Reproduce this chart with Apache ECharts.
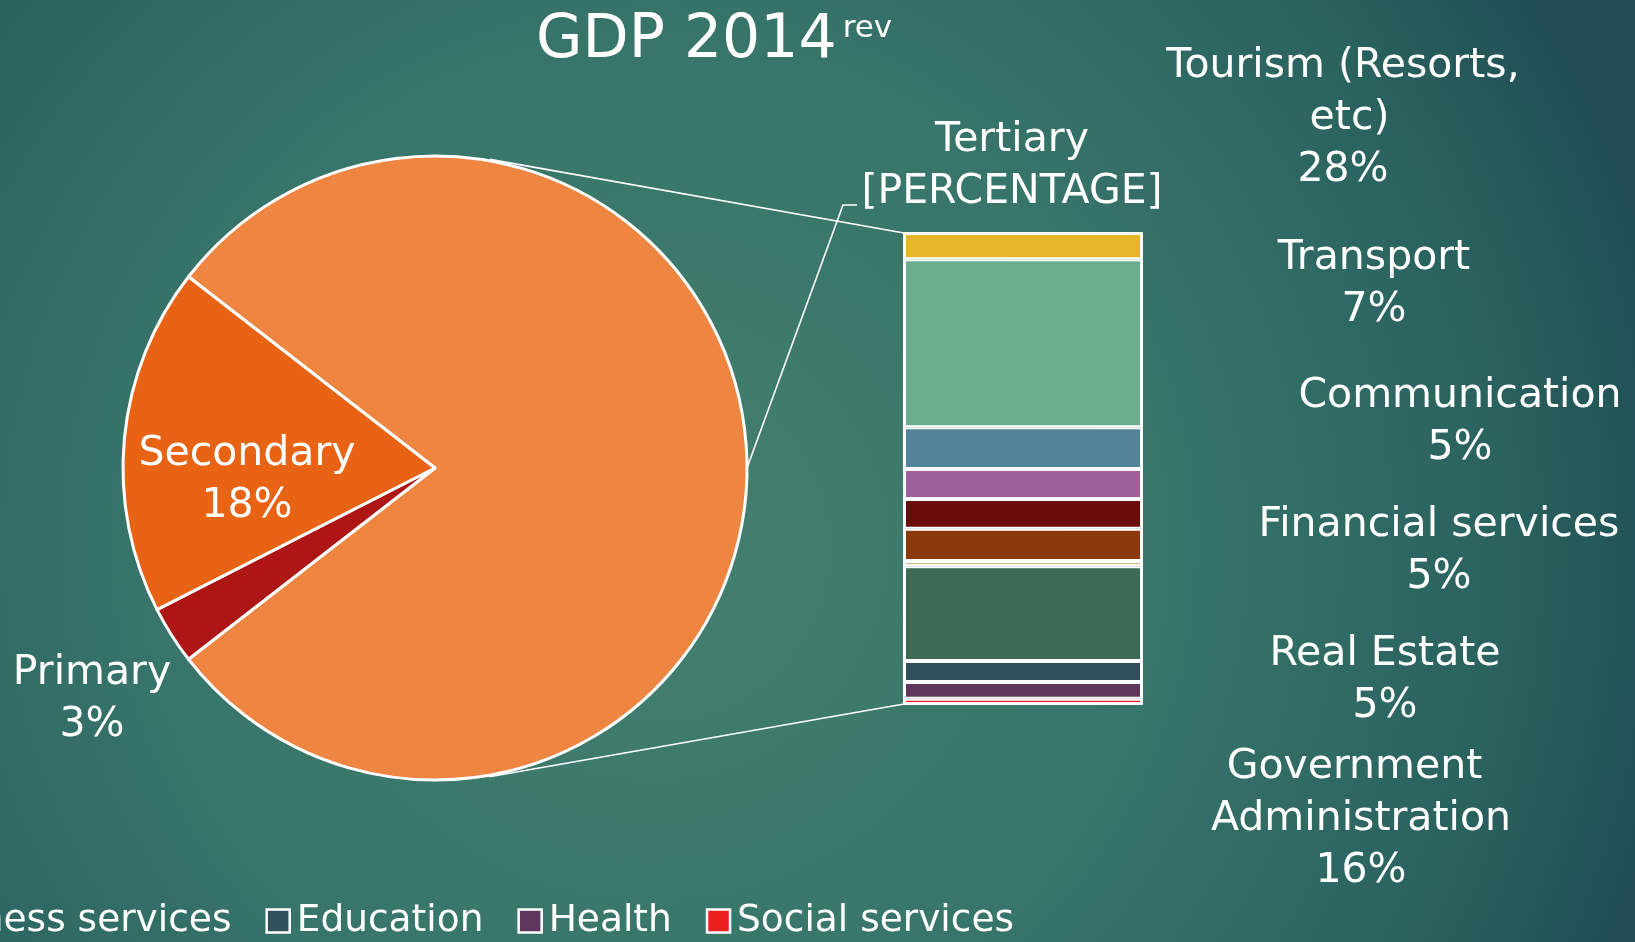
<!DOCTYPE html>
<html>
<head>
<meta charset="utf-8">
<title>GDP 2014 rev</title>
<script src="https://cdn.jsdelivr.net/npm/echarts@6/dist/echarts.min.js"></script>
<style>
  html, body { margin: 0; padding: 0; }
  #main { width: 1635px; height: 942px; }
</style>
</head>
<body>
<div id="main"></div>
<script>
// main sectors (pie)
const sectorNames = ['Primary', 'Secondary']
const sectorValues = [3, 18]
const tertiaryName = 'Tertiary'

// tertiary breakdown (bar), top to bottom
const tertiaryNames = [
  'Trade',
  'Tourism (Resorts, etc)',
  'Transport',
  'Communication',
  'Financial services',
  'Real Estate',
  'Business services',
  'Government Administration',
  'Education',
  'Health',
  'Social services',
]
const tertiaryValues = [4.4, 28.2, 7.0, 5.0, 5.0, 5.4, 0.9, 15.9, 3.5, 2.8, 0.9]

// legend order as in the slide
const legendOrder = [
  'Primary', 'Secondary', 'Trade', 'Tourism (Resorts, etc)', 'Transport',
  'Communication', 'Financial services', 'Real Estate',
  'Government Administration', 'Business services', 'Education', 'Health',
  'Social services',
]

// styles
const FONT = 'DejaVu Sans'
const PIE_COLORS = { Tertiary: '#EE8541', Primary: '#AE1515', Secondary: '#E96314' }
const BAR_COLORS = [
  '#E6B729', '#6AAD8F', '#52839A', '#9E5F9A', '#6A0D0D', '#8B3A0E',
  '#CDBE8E', '#3C6B55', '#324F5C', '#5E375C', '#E8211F',
]
const PIE_CENTER = [435, 468]
const PIE_RADIUS = 312
const BAR_W = 238
const BAR_BORDER = 2
// where the moved data labels sit
const barLabelSpots = {
  'Tourism (Resorts, etc)': [1343, 118],
  'Transport': [1374, 284],
  'Communication': [1460, 422],
  'Financial services': [1439, 551],
  'Real Estate': [1385, 680],
  'Government Administration': [1361, 819],
}
const pieLabelSpots = { Tertiary: [1012, 166], Primary: [92, 699], Secondary: [247, 480] }
const tertiaryElbow = [[843, 205], [857, 205]]

const tertiaryTotal = tertiaryValues.reduce((a, b) => a + b, 0)
const grandTotal = tertiaryTotal + sectorValues.reduce((a, b) => a + b, 0)

const chart = echarts.init(document.getElementById('main'), null, { renderer: 'canvas' })

const pieData = [
  {
    name: tertiaryName,
    value: tertiaryTotal,
    itemStyle: { color: PIE_COLORS.Tertiary },
    label: { position: 'outside', formatter: '{b}\n[PERCENTAGE]' },
    labelLine: { show: true },
  },
].concat(sectorNames.map((name, i) => ({
  name,
  value: sectorValues[i],
  itemStyle: { color: PIE_COLORS[name] },
  label: { position: name === 'Secondary' ? 'inside' : 'outside' },
  labelLine: { show: false },
})))

const barSeries = tertiaryNames.map((name, i) => {
  const spot = barLabelSpots[name]
  const s = {
    type: 'bar',
    name,
    stack: 'tertiary',
    barWidth: BAR_W,
    data: [tertiaryValues[i]],
    silent: true,
    itemStyle: { color: BAR_COLORS[i], borderColor: '#fff', borderWidth: BAR_BORDER },
    label: { show: false },
  }
  if (spot) {
    s.label = {
      show: true,
      position: 'inside',
      color: '#fff',
      fontFamily: FONT,
      fontSize: 41,
      lineHeight: 52,
      width: 370,
      overflow: 'break',
      align: 'center',
      formatter: (p) => p.seriesName + '\n' + Math.round((p.value / grandTotal) * 100) + '%',
    }
    s.labelLayout = { x: spot[0], y: spot[1], align: 'center', verticalAlign: 'middle' }
  }
  return s
})

const option = {
  animation: false,
  backgroundColor: {
    type: 'radial',
    x: 0.4,
    y: 0.58,
    r: 1.1,
    colorStops: [
      { offset: 0, color: '#43806f' },
      { offset: 0.5, color: '#37746a' },
      { offset: 0.82, color: '#2a625e' },
      { offset: 1, color: '#204e54' },
    ],
  },
  textStyle: { fontFamily: FONT, color: '#fff' },
  title: {
    text: '{a|GDP 2014}{b|rev}',
    left: 536,
    top: 3,
    padding: 0,
    textStyle: {
      fontWeight: 'normal',
      rich: {
        a: { fontFamily: FONT, fontSize: 60, fontWeight: 'normal', lineHeight: 76, color: '#fff' },
        b: {
          fontFamily: FONT, fontSize: 31, fontWeight: 'normal', lineHeight: 44, color: '#fff',
          verticalAlign: 'top', padding: [10, 0, 0, 6],
        },
      },
    },
  },
  legend: {
    data: legendOrder,
    right: 621,
    top: 902,
    width: 5000,
    padding: 0,
    icon: 'rect',
    itemWidth: 23,
    itemHeight: 23,
    itemGap: 34,
    selectedMode: false,
    itemStyle: { borderColor: '#fff', borderWidth: 2.5 },
    textStyle: { color: '#fff', fontFamily: FONT, fontSize: 37.5, padding: [0, 0, 0, 2] },
  },
  grid: { left: 904, top: 233, width: BAR_W, height: 471 },
  xAxis: { type: 'category', data: [tertiaryName], show: false },
  yAxis: { type: 'value', min: 0, max: tertiaryTotal, inverse: true, show: false },
  series: [
    {
      type: 'pie',
      center: PIE_CENTER,
      radius: PIE_RADIUS,
      startAngle: (tertiaryTotal / grandTotal) * 180,
      clockwise: true,
      avoidLabelOverlap: false,
      silent: true,
      itemStyle: { borderColor: '#fff', borderWidth: 3 },
      label: {
        color: '#fff',
        fontFamily: FONT,
        fontSize: 41,
        lineHeight: 52,
        align: 'center',
        formatter: (p) => p.name + '\n' + Math.round(p.percent) + '%',
      },
      labelLine: { lineStyle: { color: '#fff', width: 1.6 } },
      labelLayout: (params) => {
        const name = pieData[params.dataIndex].name
        const spot = pieLabelSpots[name]
        const out = { x: spot[0], y: spot[1], align: 'center', verticalAlign: 'middle' }
        if (name === tertiaryName && params.labelLinePoints) {
          out.labelLinePoints = [params.labelLinePoints[0], tertiaryElbow[0], tertiaryElbow[1]]
        }
        return out
      },
      data: pieData,
    },
  ].concat(barSeries),
}

chart.setOption(option)

// connector lines: tangent from the pie to the bar's top and bottom corners
function tangentPoint(px, py, cx, cy, r, side) {
  const dx = px - cx
  const dy = py - cy
  const d = Math.sqrt(dx * dx + dy * dy)
  const theta = Math.atan2(dy, dx)
  const alpha = Math.acos(r / d)
  const a = theta + side * alpha
  return [cx + r * Math.cos(a), cy + r * Math.sin(a)]
}

// ECharts keeps the bar border inside the bar rect, so the corners are the band edges
const barMidX = chart.convertToPixel({ xAxisIndex: 0 }, tertiaryName)
const barLeft = barMidX - BAR_W / 2
const barTop = chart.convertToPixel({ yAxisIndex: 0 }, 0)
const barBottom = chart.convertToPixel({ yAxisIndex: 0 }, tertiaryTotal)
const rOuter = PIE_RADIUS + 1.5
const tTop = tangentPoint(barLeft, barTop, PIE_CENTER[0], PIE_CENTER[1], rOuter, -1)
const tBot = tangentPoint(barLeft, barBottom, PIE_CENTER[0], PIE_CENTER[1], rOuter, 1)

chart.setOption({
  graphic: [
    {
      type: 'line',
      z: 1,
      shape: { x1: tTop[0], y1: tTop[1], x2: barLeft, y2: barTop },
      style: { stroke: '#fff', lineWidth: 1.6 },
    },
    {
      type: 'line',
      z: 1,
      shape: { x1: tBot[0], y1: tBot[1], x2: barLeft, y2: barBottom },
      style: { stroke: '#fff', lineWidth: 1.6 },
    },
    {
      // slightly heavier outer frame round the stacked bar
      type: 'rect',
      z: 10,
      silent: true,
      shape: { x: barLeft - 0.5, y: barTop - 0.5, width: BAR_W + 1, height: barBottom - barTop + 1 },
      style: { fill: null, stroke: '#fff', lineWidth: 1 },
    },
  ],
})
</script>
</body>
</html>
